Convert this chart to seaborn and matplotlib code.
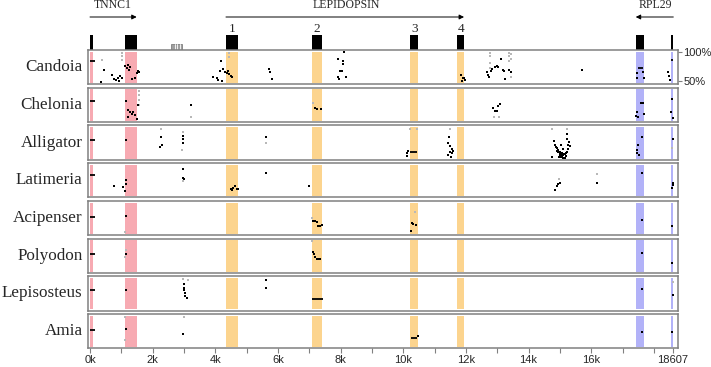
import seaborn as sns
import pandas as pd
import matplotlib.pyplot as plt
from matplotlib.patches import Rectangle

# sequence / annotation
seq_len = 18607
species = ['Candoia', 'Chelonia', 'Alligator', 'Latimeria',
           'Acipenser', 'Polyodon', 'Lepisosteus', 'Amia']
tnnc1_exons = [(0, 100), (1130, 1490)]
lepidopsin_exons = [(4340, 4710), (7080, 7420), (10210, 10485), (11730, 11940)]
rpl29_exons = [(17420, 17670), (18555, 18620)]
repeat_box = (2580, 2930)
tick_pos = [0, 2000, 4000, 6000, 8000, 10000, 12000, 14000, 16000, 18607]
tick_labels = ['0k', '2k', '4k', '6k', '8k', '10k', '12k', '14k', '16k', '18607']

# conserved windows (position in bp, identity %)
candoia = [(351, 48.2), (457, 68.3), (692, 60.4), (770, 53), (830, 51.2), (905, 55.5),
           (958, 58.5), (1011, 54.3), (940, 50), (1117, 75.6), (1200, 78), (1250, 68.3),
           (1170, 72), (1290, 73), (1330, 52.4), (1437, 55), (1490, 63.4), (1564, 64.6),
           (1540, 67), (3937, 57.3), (4043, 54.3), (4097, 51.2), (4150, 66.5), (4182, 84.8),
           (4203, 50), (4256, 69.5), (4309, 64.6), (4363, 63.4), (4416, 66.5), (4437, 62.2),
           (4501, 58.5), (4522, 57.3), (5714, 70.7), (5757, 64.6), (5820, 53), (7906, 87.8),
           (7948, 52.4), (7980, 66.5), (8033, 66.5), (8086, 78.7), (8118, 98.8), (8161, 56),
           (8086, 84.8), (7927, 57.3), (11842, 60.4), (11900, 54.3), (11970, 51.2),
           (11870, 50.5), (11950, 55), (12662, 64.6), (12715, 60.4), (12740, 56), (12800, 66.5),
           (12840, 69.5), (12928, 74.4), (12990, 75.6), (13034, 74.4), (13119, 87.8),
           (13193, 68.3), (13247, 52.4), (13370, 68.3), (13438, 64.6), (13230, 66.5),
           (15694, 68.3), (17450, 54.3), (17663, 64.6), (17695, 54.3), (17470, 63.4),
           (18439, 64.6), (18482, 58.5), (18524, 51.2)]
chelonia = [(1149, 79.9), (1224, 64.6), (1277, 61.6), (1330, 58.5), (1383, 60.4),
            (1437, 55.5), (1224, 53), (1490, 50), (1543, 73.8), (3224, 72.6), (7182, 67.7),
            (7235, 66.5), (7363, 66.5), (12874, 67.7), (12928, 62.8), (12981, 62.8),
            (13034, 70.7), (13087, 75), (17450, 61.6), (17503, 52.4), (17578, 76.8),
            (17642, 76.8), (17684, 58.5), (17429, 54.3), (18567, 83), (18535, 61.6),
            (18599, 50.6)]
alligator = [(1149, 77.4), (2266, 83.5), (2234, 65.2), (2288, 68.9), (2958, 85.4),
             (2979, 79.3), (2958, 73.2), (5607, 83.5), (10130, 54.9), (10161, 59.1),
             (10108, 50.6), (11470, 82.3), (11438, 73.2), (11491, 67), (11544, 62.8),
             (11491, 57.9), (11544, 54.9), (11438, 51.8), (11523, 48.8), (11576, 59.1),
             (14737, 48.8), (14810, 76.2), (14843, 70.1), (14897, 64), (14920, 59.1),
             (14950, 56.7), (15003, 54.9), (15056, 53), (15109, 51.8), (15162, 53),
             (15215, 57.9), (15268, 70.1), (15215, 79.3), (15030, 70.1), (15109, 62.8),
             (14980, 48.8), (15162, 47.6), (15322, 67), (15215, 88.4), (14990, 51.8),
             (15080, 50.5), (15190, 56), (14870, 66), (14930, 61), (15000, 58), (15060, 56),
             (15130, 54), (15250, 62), (15280, 75), (15040, 48), (15100, 47.5), (15200, 50),
             (17610, 82.3), (17503, 70.1), (17471, 61),
             (17535, 51.8), (17450, 54.9), (18599, 79.3)]
latimeria = [(777, 63.4), (1064, 61.6), (1149, 73.8), (1117, 54.3), (1149, 67.7),
             (2958, 92.7), (2979, 77.4), (3011, 75.6), (4490, 59.1), (4575, 60.4),
             (4628, 62.8), (4682, 59.1), (4543, 57.3), (4735, 58.5), (5607, 86), (6990, 63.4),
             (14843, 57.3), (14897, 63.4), (14950, 66.5), (15003, 69.5), (16174, 69.5),
             (17610, 86), (18599, 69.5), (18567, 60.4), (18599, 64.6)]
acipenser = [(1149, 76.8), (7128, 68.9), (7182, 67.7), (7235, 66.5), (7288, 60.4),
             (7341, 59.8), (7394, 61.6), (10267, 64.6), (10320, 62.8), (10406, 61.6),
             (10246, 50.6), (17610, 70.7), (18567, 60.4)]
polyodon = [(1149, 76.8), (7128, 79.9), (7182, 70.7), (7235, 67.7), (7288, 67.7),
            (7341, 67.7), (7150, 75.6), (17610, 78), (18567, 61.6)]
lepisosteus = [(1149, 78.7), (3000, 89.6), (3011, 83.5), (3032, 74.4), (3043, 68.3),
               (3085, 65.2), (3011, 78.7), (5607, 95.7), (5607, 82.3), (17610, 80.5),
               (18599, 71.3)]
amia = [(1149, 76.8), (2958, 68.9), (2979, 67.7), (10480, 65.8), (17610, 72),
        (18567, 72)]

# longer conserved stretches (start, end, identity %)
candoia_bars = [(0, 160, 83.5), (17503, 17663, 71.3), (18545, 18600, 86.6)]
chelonia_bars = [(0, 160, 79.9)]
alligator_bars = [(0, 160, 78), (10214, 10427, 57.9)]
latimeria_bars = [(0, 160, 81.7)]
acipenser_bars = [(0, 150, 75.6)]
polyodon_bars = [(0, 150, 75.6)]
lepisosteus_bars = [(0, 150, 78.7), (7096, 7427, 63.4)]
amia_bars = [(0, 170, 75), (10246, 10427, 61.6)]

# weak hits (drawn light grey)
candoia_faint = [(380, 86), (1011, 98), (1011, 92), (1011, 86), (4437, 97), (4437, 91),
                 (12780, 98), (12780, 92), (12780, 80), (12780, 72), (13380, 98),
                 (13380, 92), (13380, 84), (13440, 96), (13440, 88), (13440, 56)]
chelonia_faint = [(1575, 98), (1575, 90), (1575, 82), (1575, 74), (3213, 52.4), (7128, 76.8),
                  (12896, 52.4), (13066, 52.4)]
alligator_faint = [(2266, 97.6), (2926, 61), (2979, 91.5), (5607, 73.2), (10214, 97.6),
                   (10427, 97.6), (11491, 97.6), (14737, 97.6), (15215, 97.6), (18567, 64)]
latimeria_faint = [(2958, 72.6), (14982, 75.6), (16174, 84.8)]
acipenser_faint = [(1117, 49.4), (7096, 73.8), (10374, 82.9)]
polyodon_faint = [(1149, 82.9), (1128, 70.7), (7096, 98.2)]
lepisosteus_faint = [(2979, 98.8), (3139, 95.7), (18599, 92.7)]
amia_faint = [(1117, 98.2), (1117, 58.5), (3011, 98.2)]

dots = [candoia, chelonia, alligator, latimeria, acipenser, polyodon, lepisosteus, amia]
bars = [candoia_bars, chelonia_bars, alligator_bars, latimeria_bars, acipenser_bars,
        polyodon_bars, lepisosteus_bars, amia_bars]
faint = [candoia_faint, chelonia_faint, alligator_faint, latimeria_faint, acipenser_faint,
         polyodon_faint, lepisosteus_faint, amia_faint]

sns.set_style('white')
plt.rcParams['font.family'] = ['Liberation Sans', 'DejaVu Sans']

W, H = 711, 367
fig = plt.figure(figsize=(W / 100, H / 100), dpi=100)
x0, x1 = 88, 677.7
xlim = (-64, 18760)
serif = ['Liberation Serif', 'DejaVu Serif']

pink, orange, blue = '#f7aab2', '#fcd48e', '#b2b2f8'
grey = '#808080'

# header with gene structure
hax = fig.add_axes([x0 / W, 1 - 50 / H, (x1 - x0) / W, 50 / H])
hax.set_xlim(xlim)
hax.set_ylim(50, 0)
hax.axis('off')
for a, b in tnnc1_exons + lepidopsin_exons + rpl29_exons:
    hax.add_patch(Rectangle((a, 35), b - a, 14.5, color='black', lw=0))
hax.add_patch(Rectangle((repeat_box[0], 43.5), repeat_box[1] - repeat_box[0], 6,
                        facecolor='#a0a0a0', edgecolor='#707070', lw=0.5))
for xs in [2700, 2790, 2860]:
    hax.plot([xs, xs], [44, 49], color='white', lw=0.6)
for i, (a, b) in enumerate(lepidopsin_exons):
    hax.text((a + b) / 2, 29.5, str(i + 1), ha='center', va='center',
             fontsize=9.5, family=serif)

arrow = dict(arrowstyle='-|>', lw=0.7, color='black', mutation_scale=7, shrinkA=0, shrinkB=0)
hax.annotate('', xy=(1490, 17), xytext=(0, 17), arrowprops=arrow)
hax.annotate('', xy=(11940, 17), xytext=(4340, 17), arrowprops=arrow)
hax.annotate('', xy=(17420, 17), xytext=(18620, 17), arrowprops=arrow)
hax.text(736, 5.5, 'TNNC1', ha='center', va='center', fontsize=8.5, family=serif)
hax.text(8168, 5.5, 'LEPIDOPSIN', ha='center', va='center', fontsize=8.5, family=serif)
hax.text(18054, 5.5, 'RPL29', ha='center', va='center', fontsize=8.5, family=serif)

# one panel per species
ph, step = 34.3, 37.7
for i, name in enumerate(species):
    top = 50 + i * step
    ax = fig.add_axes([x0 / W, 1 - (top + ph) / H, (x1 - x0) / W, ph / H])
    ax.set_xlim(xlim)
    ax.set_ylim(44, 103)
    for exons, col in [(tnnc1_exons, pink), (lepidopsin_exons, orange), (rpl29_exons, blue)]:
        for a, b in exons:
            ax.axvspan(a, b, ymin=0.03, ymax=0.95, color=col, lw=0, zorder=0)

    fd = pd.DataFrame(faint[i], columns=['pos', 'pct'])
    sns.scatterplot(data=fd, x='pos', y='pct', ax=ax, color='#b8b8b8', marker='s',
                    s=1.2, linewidth=0, legend=False, zorder=2)
    df = pd.DataFrame(dots[i], columns=['pos', 'pct'])
    sns.scatterplot(data=df, x='pos', y='pct', ax=ax, color='black', marker='s',
                    s=2.8, linewidth=0, legend=False, zorder=3)
    for a, b, y in bars[i]:
        ax.hlines(y, a, b, color='black', lw=1.3, zorder=3)

    for sp in ax.spines.values():
        sp.set_visible(True)
        sp.set_color(grey)
        sp.set_linewidth(1.1)
    ax.set_xlabel('')
    ax.set_ylabel('')
    ax.text(-5.5 / (x1 - x0), 0.5, name, transform=ax.transAxes, ha='right', va='center',
            fontsize=12.3, family=serif)

    if i == 0:
        ax.yaxis.tick_right()
        ax.set_yticks([100, 50])
        ax.set_yticklabels(['100%', '50%'])
        ax.tick_params(axis='y', right=True, length=3, width=0.8, color=grey,
                       labelsize=8, pad=1)
    else:
        ax.set_yticks([])

    if i == len(species) - 1:
        ax.set_xticks(tick_pos)
        ax.set_xticklabels(tick_labels)
        ax.set_xticks([1000, 3000, 5000, 7000, 9000, 11000, 13000, 15000, 17000, 18000],
                      minor=True)
        ax.tick_params(axis='x', which='both', bottom=True, length=3.5, width=0.8,
                       color=grey, labelsize=8, pad=1.5)
    else:
        ax.set_xticks([])

fig.savefig('out.png', dpi=100)
